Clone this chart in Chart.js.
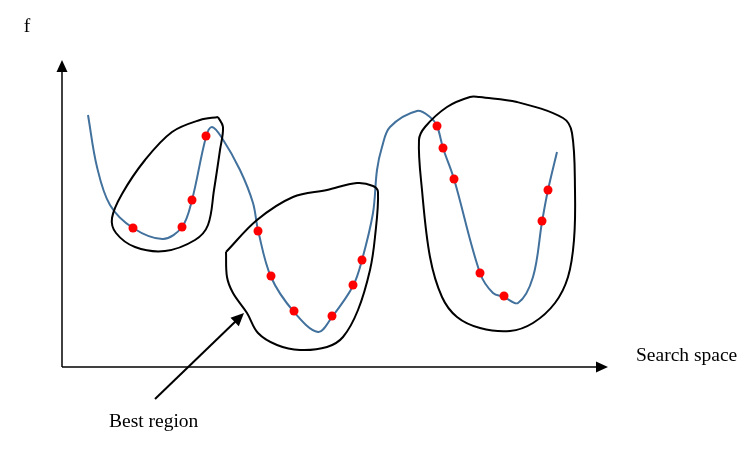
<!DOCTYPE html>
<html>
<head>
<meta charset="utf-8">
<script src="https://cdn.jsdelivr.net/npm/chart.js@4/dist/chart.umd.min.js"></script>
<style>
  html, body { margin: 0; padding: 0; background: #fff; }
  #wrap { width: 752px; height: 457px; position: relative; }
</style>
</head>
<body>
<div id="wrap"><canvas id="c"></canvas></div>
<script>
// objective curve f over the search space (origin at the axes corner)
const curveX = [26, 35, 48, 71, 101, 120, 130, 144, 150, 160, 178, 191, 196, 209, 232, 256, 270, 291, 300, 311, 315, 320, 328, 355, 368, 375, 381, 392, 418, 431, 442, 456, 471, 480, 486, 495];
const curveY = [252, 200, 162, 139, 128, 140, 167, 230, 240, 229, 197, 164, 137, 90, 55, 35, 50, 81, 107, 154, 197, 220, 240, 256, 250, 241, 219, 188, 94, 74, 70, 64, 90, 145, 177, 215];

// sampled points
const sampleX = [71, 120, 130, 144, 196, 209, 232, 270, 291, 300, 375, 381, 392, 418, 442, 480, 486];
const sampleY = [139, 140, 167, 231, 136, 91, 56, 51, 82, 107, 241, 219, 188, 94, 71, 146, 177];

// regions drawn around the clusters
const region1X = [156, 161, 158, 152, 146, 133, 103, 73, 54, 50, 60, 83, 110, 138];
const region1Y = [250, 240, 217, 177, 142, 127, 116, 120, 134, 149, 173, 207, 235, 247];
const region2X = [164, 195, 231, 265, 295, 311, 316, 313, 308, 296, 281, 265, 238, 215, 196, 185, 171, 165];
const region2Y = [115, 147, 170, 177, 184, 181, 175, 130, 97, 57, 30, 20, 17, 22, 34, 54, 74, 90];
const region3X = [418, 455, 501, 510, 513, 512, 506, 493, 471, 448, 418, 395, 380, 368, 360, 357, 363, 385, 408];
const region3Y = [270, 265, 249, 234, 177, 127, 90, 64, 44, 36, 39, 50, 70, 110, 177, 227, 240, 260, 270];

// axes and pointer arrow
const xAxisEnd = 546;
const yAxisEnd = 307;
const pointerFrom = [93, -32];
const pointerTo = [182, 54];

const labels = [
  { text: 'f', x: -35, y: 340, align: 'center' },
  { text: 'Search space', x: 574, y: 11, align: 'left' },
  { text: 'Best region', x: 47, y: -55, align: 'left' }
];

const toPts = (xs, ys) => xs.map((x, i) => ({ x: x, y: ys[i] }));
const closed = (xs, ys) => { const p = toPts(xs, ys); p.push(p[0]); return p; };

const regionStyle = {
  showLine: true, borderColor: '#000', borderWidth: 2, pointRadius: 0,
  tension: 0.35, fill: false, order: 1
};

const arrows = {
  id: 'arrows',
  afterDatasetsDraw(chart) {
    const ctx = chart.ctx;
    const sx = chart.scales.x, sy = chart.scales.y;
    const px = (x, y) => [sx.getPixelForValue(x), sy.getPixelForValue(y)];
    function head(from, to, len, half) {
      const [x0, y0] = px(from[0], from[1]);
      const [x1, y1] = px(to[0], to[1]);
      const a = Math.atan2(y1 - y0, x1 - x0);
      ctx.beginPath();
      ctx.moveTo(x1, y1);
      ctx.lineTo(x1 - len * Math.cos(a) + half * Math.sin(a), y1 - len * Math.sin(a) - half * Math.cos(a));
      ctx.lineTo(x1 - len * Math.cos(a) - half * Math.sin(a), y1 - len * Math.sin(a) + half * Math.cos(a));
      ctx.closePath();
      ctx.fill();
    }
    ctx.save();
    ctx.fillStyle = '#000';
    head([0, 0], [xAxisEnd, 0], 12, 5.5);
    head([0, 0], [0, yAxisEnd], 12, 5.5);
    head(pointerFrom, pointerTo, 13, 6);
    ctx.font = '19.5px "Liberation Serif", "Times New Roman", serif';
    ctx.textBaseline = 'middle';
    labels.forEach(l => {
      const [x, y] = px(l.x, l.y);
      ctx.textAlign = l.align;
      ctx.fillText(l.text, x, y);
    });
    ctx.restore();
  }
};

new Chart(document.getElementById('c'), {
  type: 'scatter',
  data: {
    datasets: [
      { data: toPts(sampleX, sampleY), pointRadius: 4.5, pointBackgroundColor: '#ff0000', pointBorderWidth: 0, showLine: false, order: 0 },
      Object.assign({ data: closed(region1X, region1Y) }, regionStyle),
      Object.assign({ data: closed(region2X, region2Y) }, regionStyle),
      Object.assign({ data: closed(region3X, region3Y) }, regionStyle),
      { data: toPts(curveX, curveY), showLine: true, borderColor: '#41719c', borderWidth: 2, pointRadius: 0, tension: 0.35, order: 2 },
      { data: [{ x: 0, y: 0 }, { x: xAxisEnd - 8, y: 0 }], showLine: true, borderColor: '#000', borderWidth: 1.5, pointRadius: 0, order: 3 },
      { data: [{ x: 0, y: 0 }, { x: 0, y: yAxisEnd - 8 }], showLine: true, borderColor: '#000', borderWidth: 1.5, pointRadius: 0, order: 3 },
      { data: [{ x: pointerFrom[0], y: pointerFrom[1] }, { x: pointerTo[0] - 6, y: pointerTo[1] - 6 }], showLine: true, borderColor: '#000', borderWidth: 2, pointRadius: 0, order: 3 }
    ]
  },
  options: {
    responsive: true,
    maintainAspectRatio: false,
    animation: false,
    layout: { padding: 0, autoPadding: false },
    plugins: { legend: { display: false }, tooltip: { enabled: false } },
    scales: {
      x: { type: 'linear', min: -62, max: 690, display: false },
      y: { type: 'linear', min: -90, max: 367, display: false }
    }
  },
  plugins: [arrows]
});
</script>
</body>
</html>
